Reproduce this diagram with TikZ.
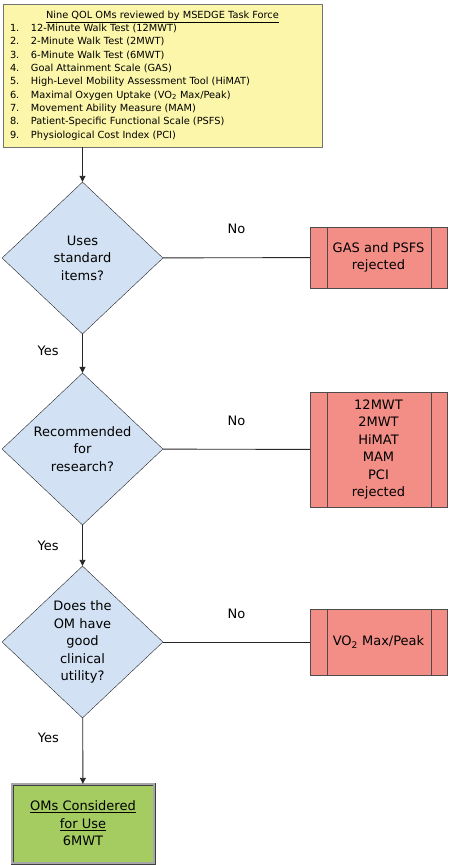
\documentclass[tikz,border=0pt]{standalone}
\usepackage{fontspec}
\setmainfont{DejaVu Sans}
\usetikzlibrary{shapes.geometric, arrows.meta}
\definecolor{listyellow}{HTML}{FBF6A9}
\definecolor{askblue}{HTML}{D2E1F3}
\definecolor{rejectred}{HTML}{F38E87}
\definecolor{keepgreen}{HTML}{A5CC61}
\tikzstyle{listbox} = [rectangle, minimum width=319pt, minimum height=143pt, inner sep=0pt, draw=black!55, fill=listyellow, font=\fontsize{9.8}{13.3}\selectfont]
\tikzstyle{decision} = [diamond, minimum width=161pt, minimum height=152pt, inner sep=1pt, text centered, align=center, draw=black!85, fill=askblue]
\tikzstyle{rejected} = [rectangle, minimum width=137pt, text centered, align=center, draw=black!70, fill=rejectred,
    path picture={\draw[black!70] ([xshift=17pt]path picture bounding box.north west) -- ([xshift=17pt]path picture bounding box.south west);
                  \draw[black!70] ([xshift=-16pt]path picture bounding box.north east) -- ([xshift=-16pt]path picture bounding box.south east);}]
\tikzstyle{accepted} = [rectangle, minimum width=142pt, minimum height=79pt, text centered, align=center, draw=black!75, double=black!35, double distance=2.2pt, fill=keepgreen]
\tikzstyle{arrow} = [line width=0.9pt, draw=black!85, -{Triangle[length=6pt,width=6pt]}]
\tikzstyle{noline} = [line width=0.9pt, draw=black!85, -]

\begin{document}
\begin{tikzpicture}[x=1pt,y=-1pt,font=\fontsize{13}{17.5}\selectfont]
    \useasboundingbox (0,0) rectangle (449,865);

    % Nodes
    \node[listbox] (omList) at (162.5,75.5) {%
        \begin{tabular}{@{\hspace{2pt}}p{21pt}@{}p{286pt}@{}}
        \multicolumn{2}{@{}c@{}}{\underline{Nine QOL OMs reviewed by MSEDGE Task Force}}\\
        1. & 12-Minute Walk Test (12MWT)\\
        2. & 2-Minute Walk Test (2MWT)\\
        3. & 6-Minute Walk Test (6MWT)\\
        4. & Goal Attainment Scale (GAS)\\
        5. & High-Level Mobility Assessment Tool (HiMAT)\\
        6. & Maximal Oxygen Uptake (VO\textsubscript{2} Max/Peak)\\
        7. & Movement Ability Measure (MAM)\\
        8. & Patient-Specific Functional Scale (PSFS)\\
        9. & Physiological Cost Index (PCI)
        \end{tabular}};

    \node[decision] (stdCheck) at (82.5,258) {Uses\\standard\\items?};
    \node[decision] (recCheck) at (82.5,449) {Recommended\\for\\research?};
    \node[decision] (useCheck) at (82.5,642) {Does the\\OM have\\good\\clinical\\utility?};

    \node[rejected, minimum height=61pt] (rejGas) at (378.5,257.5) {GAS and PSFS\\rejected};
    \node[rejected, minimum height=115pt] (rejWalk) at (378.5,449.5) {12MWT\\2MWT\\HiMAT\\MAM\\PCI\\rejected};
    \node[rejected, minimum height=66pt] (rejVo) at (378.5,642) {VO\textsubscript{2} Max/Peak};

    \node[accepted] (omKept) at (83,823.5) {\underline{OMs Considered}\\\underline{for Use}\\6MWT};

    % Arrows
    \path
    (omList.south -| stdCheck.north) edge[arrow] (stdCheck.north)

    (stdCheck) edge[noline] node[above=20pt] {No} (rejGas)
    (stdCheck) edge[arrow] node[pos=0.42, left=20pt] {Yes} (recCheck)

    (recCheck) edge[noline] node[above=20pt] {No} (rejWalk)
    (recCheck) edge[arrow] node[pos=0.5, left=20pt] {Yes} (useCheck)

    (useCheck) edge[noline] node[above=20pt] {No} (rejVo)
    (useCheck) edge[arrow] node[pos=0.3, left=20pt] {Yes} (omKept);

\end{tikzpicture}
\end{document}
